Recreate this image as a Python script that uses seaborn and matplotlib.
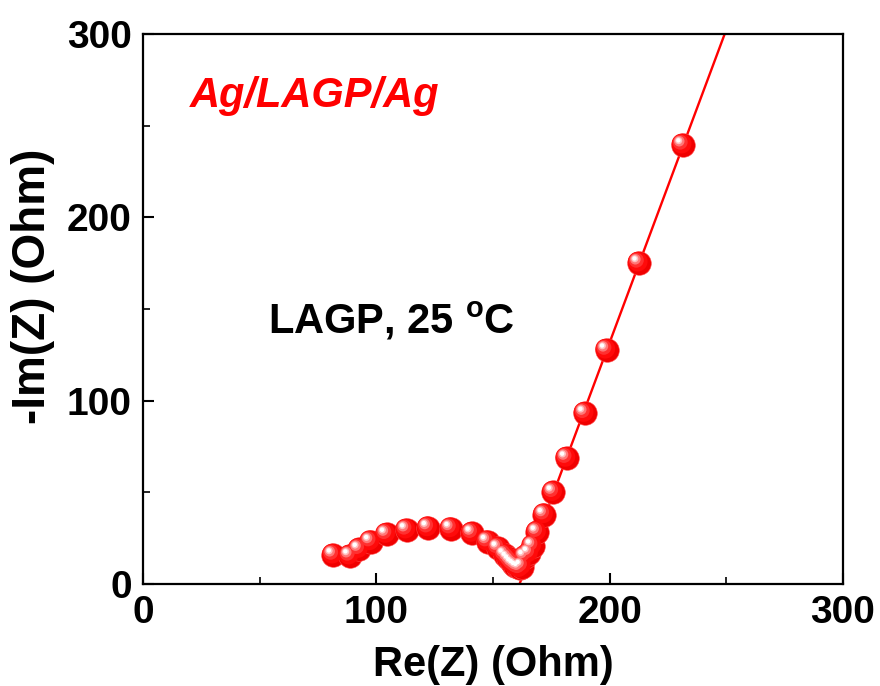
import numpy as np
import pandas as pd
import matplotlib
matplotlib.use("Agg")
import matplotlib.pyplot as plt
import matplotlib.transforms as mtransforms
import seaborn as sns

# ---- data ----
re_z = [81.6, 88.7, 92.7, 97.6, 104.4, 113.0, 122.3, 132.0, 141.1, 147.7,
        152.3, 155.2, 156.5, 157.5, 158.5, 159.5, 160.5, 161.5, 162.5, 163.7,
        165.6, 167.0, 169.0, 172.0, 175.9, 181.6, 189.4, 198.7, 212.6, 231.4]
im_z = [15.8, 15.3, 18.9, 23.1, 27.1, 29.5, 30.7, 30.2, 27.7, 23.1,
        19.5, 15.8, 14.0, 12.5, 11.0, 10.0, 9.0, 8.5, 9.5, 14.9,
        16.7, 20.7, 28.2, 37.8, 50.0, 68.6, 93.1, 127.6, 175.1, 239.5]
fit_x_range = [160.0, 249.5]
x_ticks = [0, 100, 200, 300]
y_ticks = [0, 100, 200, 300]

df = pd.DataFrame({"Re(Z)": re_z, "-Im(Z)": im_z})

sns.set_theme(style="white")
plt.rcParams['font.family'] = ['Liberation Sans', 'DejaVu Sans']
plt.rcParams['mathtext.fontset'] = 'custom'
plt.rcParams['mathtext.rm'] = 'Liberation Sans:bold'
plt.rcParams['mathtext.bf'] = 'Liberation Sans:bold'
plt.rcParams['mathtext.it'] = 'Liberation Sans:bold:italic'
plt.rcParams['text.color'] = 'black'
plt.rcParams['axes.labelcolor'] = 'black'

fig = plt.figure(figsize=(8.8, 6.86), dpi=100)
ax = fig.add_axes([0.1625, 0.1487, 0.7955, 0.8017])

# linear fit of the diffusion tail
tail = df[df["Re(Z)"] >= 172]
slope, icpt = np.polyfit(tail["Re(Z)"], tail["-Im(Z)"], 1)
fx = np.array(fit_x_range)
fit_df = pd.DataFrame({"x": fx, "y": slope * fx + icpt})
sns.lineplot(data=fit_df, x="x", y="y", ax=ax, color="#ff0000", lw=1.7, zorder=2)

# sphere-like markers: base plus shading layers offset up-left
base_s = 290
sns.scatterplot(data=df, x="Re(Z)", y="-Im(Z)", ax=ax, s=base_s, color="#f00000",
                edgecolor="#ff5050", linewidth=0.4, zorder=3, legend=False)
layers = [
    (0.70, -1.0, 1.0, "#ff0a0a"),
    (0.40, -2.0, 2.0, "#ff3030"),
    (0.20, -2.7, 2.7, "#ff7878"),
    (0.09, -3.1, 3.1, "#ffc0c0"),
    (0.035, -3.3, 3.3, "#ffffff"),
]
for frac, dx, dy, col in layers:
    tr = mtransforms.offset_copy(ax.transData, fig=fig, x=dx, y=dy, units='points')
    ax.scatter(re_z, im_z, s=base_s * frac, color=col, edgecolor="none",
               transform=tr, zorder=4)

ax.set_xlim(0, 300)
ax.set_ylim(0, 300)
ax.set_xticks(x_ticks)
ax.set_yticks(y_ticks)
ax.set_xticks([50, 150, 250], minor=True)
ax.set_yticks([50, 150, 250], minor=True)
ax.tick_params(axis='both', which='major', direction='in', length=8, width=1.5,
               labelsize=28, top=False, right=False, bottom=True, left=True,
               color='black', labelcolor='black')
ax.tick_params(axis='x', which='major', pad=8)
ax.tick_params(axis='y', which='major', pad=8)
ax.tick_params(axis='both', which='minor', direction='in', length=5, width=1.2,
               top=False, right=False, bottom=True, left=True, color='black')
for lab in ax.get_xticklabels() + ax.get_yticklabels():
    lab.set_fontweight('bold')
for sp in ax.spines.values():
    sp.set_visible(True)
    sp.set_color('black')
    sp.set_linewidth(1.6)

ax.set_xlabel("Re(Z) (Ohm)", fontsize=30, fontweight='bold', labelpad=10)
ax.set_ylabel("-Im(Z) (Ohm)", fontsize=33, fontweight='bold')
ax.yaxis.set_label_coords(-0.125, 0.542)

ax.text(20, 266, "Ag/LAGP/Ag", color="#ff0000", fontsize=30, fontweight='bold',
        fontstyle='italic', ha='left', va='center')
ax.text(53.5, 143, r"LAGP, 25 $^{\rm o}$C", color="black", fontsize=30,
        fontweight='bold', ha='left', va='center')

fig.savefig("out.png", dpi=100, facecolor='white')
